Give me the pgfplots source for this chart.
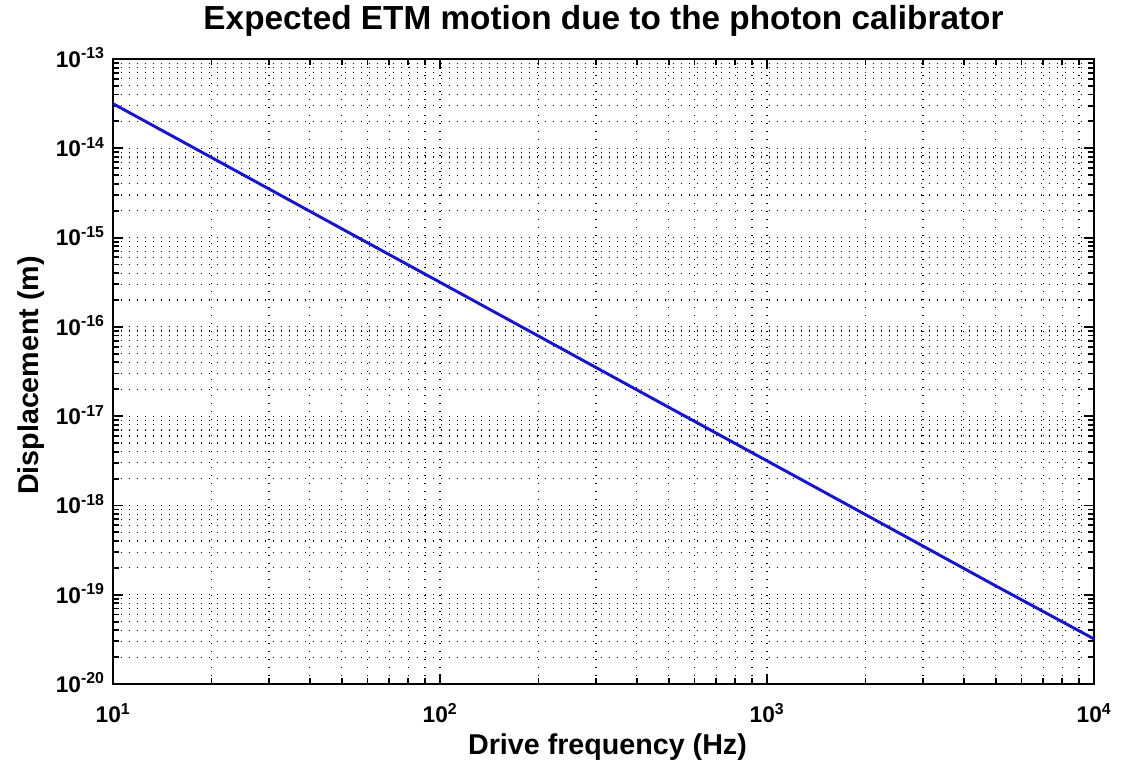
\documentclass[border=0pt]{standalone}
\usepackage{pgfplots}
\pgfplotsset{compat=1.18}
\usepackage{fontspec}
\setmainfont{Liberation Sans}

\definecolor{lineblue}{RGB}{20,20,210}

\begin{document}
\begin{tikzpicture}
\begin{axis}[
  scale only axis,
  width=735.75pt, height=468.75pt,
  xmode=log, ymode=log,
  xmin=10, xmax=10000,
  ymin=1e-20, ymax=1e-13,
  axis line style={line width=1.8pt},
  tick style={line width=1.4pt, black},
  major tick length=7.5pt,
  minor tick length=4.5pt,
  tick align=inside,
  xtick={10,100,1000,10000},
  xticklabels={10\textsuperscript{1},10\textsuperscript{2},10\textsuperscript{3},10\textsuperscript{4}},
  ytick={1e-20,1e-19,1e-18,1e-17,1e-16,1e-15,1e-14,1e-13},
  yticklabels={10\textsuperscript{-20},10\textsuperscript{-19},10\textsuperscript{-18},10\textsuperscript{-17},
               10\textsuperscript{-16},10\textsuperscript{-15},10\textsuperscript{-14},10\textsuperscript{-13}},
  ticklabel style={font=\fontsize{17}{20}\selectfont\bfseries},
  xticklabel style={anchor=base, yshift=-29pt},
  yticklabel style={anchor=base east, xshift=-2.7pt, yshift=-6.2pt},
  grid=both,
  major grid style={line width=0.9pt, black, dash pattern=on 0.9pt off 5.1pt},
  minor grid style={line width=0.9pt, black, dash pattern=on 0.9pt off 5.1pt},
  title={Expected ETM motion due to the photon calibrator},
  title style={font=\fontsize{25}{30}\selectfont\bfseries, at={(0.5,1)}, anchor=base, yshift=16.5pt},
  xlabel={Drive frequency (Hz)},
  xlabel style={font=\fontsize{21.5}{26}\selectfont\bfseries, at={(0.5,0)}, anchor=base, yshift=-53pt, xshift=3pt},
  ylabel={Displacement (m)},
  ylabel style={font=\fontsize{21.5}{26}\selectfont\bfseries, at={(0,0.5)}, anchor=base, yshift=56pt, xshift=-3pt},
]
\addplot[lineblue, line width=2.2pt] coordinates {
  (10,3.16e-14) (20,7.9e-15) (50,1.26e-15) (100,3.16e-16) (200,7.9e-17)
  (500,1.26e-17) (1000,3.16e-18) (2000,7.9e-19) (5000,1.26e-19) (10000,3.2e-20)
};
\end{axis}
\pgfresetboundingbox
\path (current axis.south west) ++(-84.75pt,-60pt) coordinate (bbA);
\path (current axis.north east) ++(21pt,44.25pt) coordinate (bbB);
\useasboundingbox (bbA) rectangle (bbB);
\end{tikzpicture}
\end{document}
